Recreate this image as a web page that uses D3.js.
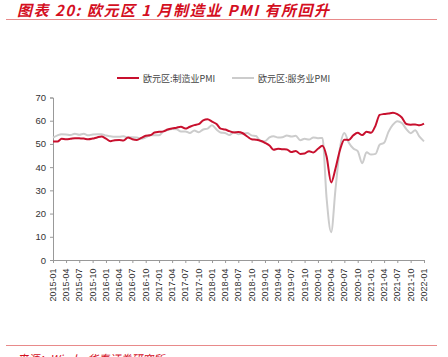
<!DOCTYPE html>
<html><head><meta charset="utf-8">
<script src="https://cdn.jsdelivr.net/npm/d3@7/dist/d3.min.js"></script>
<style>html,body{margin:0;padding:0;background:#fff;overflow:hidden}</style>
</head><body><svg id="c" width="448" height="357"></svg>
<script>
const startMonth = "2015-01";
const tickLabels = ["2015-01","2015-04","2015-07","2015-10","2016-01","2016-04","2016-07","2016-10","2017-01","2017-04","2017-07","2017-10","2018-01","2018-04","2018-07","2018-10","2019-01","2019-04","2019-07","2019-10","2020-01","2020-04","2020-07","2020-10","2021-01","2021-04","2021-07","2021-10","2022-01"];
const yTicks = [0,10,20,30,40,50,60,70];
const seriesNames = ["欧元区:制造业PMI","欧元区:服务业PMI"];
const manufacturing = [
51.0,51.0,52.2,52.0,52.2,52.5,52.4,52.3,52.0,52.3,52.8,53.2,
52.3,51.2,51.6,51.7,51.5,52.8,52.0,51.7,52.6,53.5,53.7,54.9,
55.2,55.4,56.2,56.7,57.0,57.4,56.6,57.4,58.1,58.5,60.1,60.6,
59.6,58.6,56.6,56.2,55.5,54.9,55.1,54.6,53.2,52.0,51.8,51.4,
50.5,49.3,47.5,47.9,47.7,47.6,46.5,47.0,45.7,45.9,46.9,46.3,
47.9,49.2,44.5,33.4,39.4,47.4,51.8,51.7,53.7,54.8,53.8,55.2,
54.8,57.9,62.5,62.9,63.1,63.4,62.8,61.4,58.6,58.3,58.4,58.0,
58.7];
const services = [
52.7,53.7,54.2,54.1,53.8,54.4,54.0,54.4,53.7,54.1,54.2,54.2,
53.6,53.3,53.1,53.1,53.3,52.8,52.9,52.8,52.2,52.8,53.8,53.7,
53.7,55.5,56.0,56.4,56.3,55.4,55.4,54.7,55.8,55.0,56.2,56.6,
58.0,56.2,54.9,54.7,53.8,55.2,54.2,54.4,54.7,53.7,53.4,51.2,
51.2,52.8,53.3,52.8,52.9,53.6,53.2,53.5,51.6,52.2,51.9,52.8,
52.5,52.6,26.4,12.0,30.5,48.3,54.7,50.5,48.0,46.9,41.7,46.4,
45.4,45.7,49.6,50.5,55.2,58.3,59.8,59.0,56.4,54.6,55.9,53.1,
51.1];

const parse = d3.timeParse("%Y-%m");
const t0 = parse(startMonth);
const dates = manufacturing.map((_, i) => d3.timeMonth.offset(t0, i));

const svg = d3.select("#c");
const RED = "#c8102e", GRAY = "#cccccc", ACC = "#d40f1f";

// title
svg.append("text").attr("x", 17).attr("y", 15.5)
  .attr("font-family", "Noto Sans CJK SC").attr("font-size", 15).attr("font-weight", "bold")
  .attr("font-style", "italic").attr("fill", ACC).attr("letter-spacing", 1.5)
  .text("图表 20:  欧元区 1 月制造业 PMI 有所回升");
svg.append("line").attr("x1", 6).attr("x2", 437).attr("y1", 19.5).attr("y2", 19.5)
  .attr("stroke", "#e88a8a").attr("stroke-width", 1);

const x = d3.scaleTime().domain([dates[0], dates[dates.length - 1]]).range([53, 424]);
const y = d3.scaleLinear().domain([0, 70]).range([260, 97.5]);

// y axis
const yAxis = svg.append("g").attr("transform", "translate(53,0)")
  .call(d3.axisLeft(y).tickValues(yTicks).tickSize(3).tickPadding(4));
yAxis.select(".domain").attr("stroke", "#999");
yAxis.selectAll(".tick line").attr("stroke", "#999");
yAxis.selectAll("text").attr("font-family", "Liberation Sans, Arial").attr("font-size", 9.5).attr("fill", "#333");

// x axis
const xAxis = svg.append("g").attr("transform", "translate(0,260)")
  .call(d3.axisBottom(x).tickValues(tickLabels.map(parse)).tickFormat(d3.timeFormat("%Y-%m")).tickSize(3).tickSizeOuter(0));
xAxis.select(".domain").attr("stroke", "#999");
xAxis.selectAll(".tick line").attr("stroke", "#999");
xAxis.selectAll("text").attr("font-family", "Liberation Sans, Arial").attr("font-size", 9).attr("fill", "#333")
  .attr("transform", "rotate(-90)").attr("text-anchor", "end").attr("dx", "-0.6em").attr("dy", "-0.05em").attr("y", 0).attr("x", -3)
  .style("dominant-baseline", "central");

const line = d3.line().x((d, i) => x(dates[i])).y(d => y(d)).curve(d3.curveMonotoneX);
svg.append("path").datum(services).attr("d", line).attr("fill", "none").attr("stroke", GRAY).attr("stroke-width", 2);
svg.append("path").datum(manufacturing).attr("d", line).attr("fill", "none").attr("stroke", RED).attr("stroke-width", 2);

// legend
const leg = [{n: seriesNames[0], c: RED, x: 117}, {n: seriesNames[1], c: GRAY, x: 232}];
leg.forEach(l => {
  svg.append("line").attr("x1", l.x).attr("x2", l.x + 22).attr("y1", 78).attr("y2", 78).attr("stroke", l.c).attr("stroke-width", 2);
  svg.append("text").attr("x", l.x + 26).attr("y", 81.5).attr("font-family", "Noto Sans CJK SC").attr("font-size", 9)
    .attr("fill", "#444").text(l.n);
});

// footer
svg.append("line").attr("x1", 6).attr("x2", 437).attr("y1", 345.5).attr("y2", 345.5)
  .attr("stroke", "#e88a8a").attr("stroke-width", 1);
svg.append("text").attr("x", 17).attr("y", 363).attr("font-family", "Noto Sans CJK SC").attr("font-size", 11)
  .attr("font-style", "italic").attr("fill", ACC).text("来源：Wind，华泰证券研究所");
</script></body></html>
